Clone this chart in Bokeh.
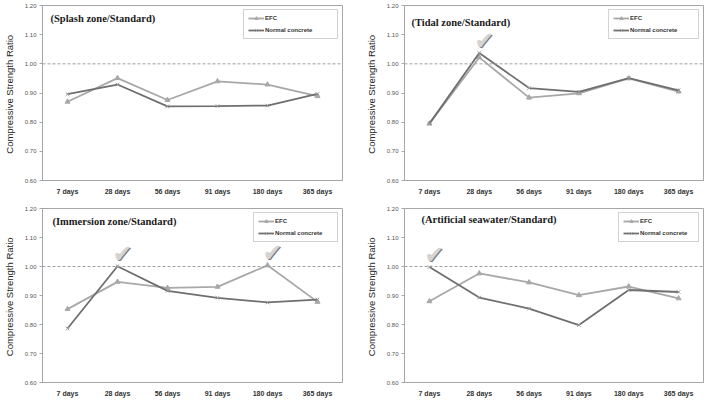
from bokeh.plotting import figure
from bokeh.layouts import gridplot
from bokeh.models import (Span, Label, Legend, LegendItem, FixedTicker,
                          NumeralTickFormatter, ColumnDataSource)
from bokeh.core.properties import value
from bokeh.embed import file_html
from bokeh.resources import INLINE

# Curing ages on the x axis
ages = ["7 days", "28 days", "56 days", "91 days", "180 days", "365 days"]
y_ticks = [0.60, 0.70, 0.80, 0.90, 1.00, 1.10, 1.20]

# Compressive strength ratio (exposure / standard curing)
splash_efc = [0.870, 0.951, 0.876, 0.940, 0.929, 0.889]
splash_normal = [0.896, 0.929, 0.854, 0.855, 0.857, 0.897]

tidal_efc = [0.795, 1.022, 0.884, 0.899, 0.950, 0.905]
tidal_normal = [0.795, 1.037, 0.917, 0.904, 0.951, 0.909]

immersion_efc = [0.853, 0.947, 0.926, 0.930, 1.004, 0.878]
immersion_normal = [0.786, 1.001, 0.916, 0.892, 0.876, 0.886]

seawater_efc = [0.880, 0.976, 0.945, 0.901, 0.931, 0.890]
seawater_normal = [0.998, 0.893, 0.855, 0.798, 0.919, 0.912]

titles = ["(Splash zone/Standard)", "(Tidal zone/Standard)",
          "(Immersion zone/Standard)", "(Artificial seawater/Standard)"]

# Ages whose ratio reaches the standard-cured strength (ticked), per panel
checks_efc = [[], [], ["180 days"], []]
checks_normal = [[], ["28 days"], ["28 days"], ["7 days"]]

EFC_COLOR = "#a8a8a8"
NC_COLOR = "#6f6f6f"
FRAME_COLOR = "#a6a6a6"
SANS = "Liberation Sans"


def make_panel(title, efc, normal, tick_efc, tick_normal, borders, title_pos, legend_w):
    left, right, top, bottom = borders
    p = figure(width=355, height=204, x_range=ages, y_range=(0.60, 1.20),
               output_backend="svg", toolbar_location=None,
               min_border_left=left, min_border_right=right,
               min_border_top=top, min_border_bottom=bottom)
    p.x_range.range_padding = 0
    p.xgrid.grid_line_color = None
    p.ygrid.grid_line_color = None
    p.outline_line_color = FRAME_COLOR
    p.outline_line_width = 1
    p.background_fill_color = "white"
    p.border_fill_color = "white"

    # y axis
    ya = p.yaxis[0]
    ya.ticker = FixedTicker(ticks=y_ticks)
    ya.formatter = NumeralTickFormatter(format="0.00")
    ya.axis_line_color = FRAME_COLOR
    ya.major_tick_line_color = FRAME_COLOR
    ya.major_tick_out = 3
    ya.major_tick_in = 0
    ya.minor_tick_line_color = None
    ya.major_label_text_font = SANS
    ya.major_label_text_font_size = "6px"
    ya.major_label_text_color = "#555555"
    ya.major_label_standoff = 3
    ya.axis_label = "Compressive  Strength Ratio"
    ya.axis_label_text_font = SANS
    ya.axis_label_text_font_style = "normal"
    ya.axis_label_text_font_size = "9.5px"
    ya.axis_label_text_color = "#262626"
    ya.axis_label_standoff = 7

    # x axis
    xa = p.xaxis[0]
    xa.axis_line_color = FRAME_COLOR
    xa.major_tick_line_color = None
    xa.major_tick_out = 0
    xa.major_label_text_font = SANS
    xa.major_label_text_font_style = "bold"
    xa.major_label_text_font_size = "7px"
    xa.major_label_text_color = "#333333"
    xa.major_label_standoff = 7

    # reference level of the standard-cured strength
    p.add_layout(Span(location=1.0, dimension="width", line_color="#a0a0a0",
                      line_dash="3 2", line_width=1))

    src = ColumnDataSource(dict(age=ages, efc=efc, normal=normal))
    l1 = p.line("age", "efc", source=src, line_color=EFC_COLOR, line_width=1.8)
    m1 = p.scatter("age", "efc", source=src, marker="triangle", size=5,
                   fill_color=EFC_COLOR, line_color=EFC_COLOR)
    l2 = p.line("age", "normal", source=src, line_color=NC_COLOR, line_width=1.8)
    m2 = p.scatter("age", "normal", source=src, marker="x", size=5,
                   line_color="#9a9a9a", line_width=1)

    legend = Legend(items=[LegendItem(label="EFC", renderers=[l1, m1]),
                           LegendItem(label="Normal concrete", renderers=[l2, m2])],
                    location="top_right")
    legend.label_text_font = SANS
    legend.label_text_font_style = "bold"
    legend.label_text_font_size = "6px"
    legend.label_text_color = "#333333"
    legend.glyph_width = 16
    legend.glyph_height = 8
    legend.label_height = 8
    legend.label_standoff = 1
    legend.spacing = 4
    legend.padding = 4
    legend.margin = 4
    legend.border_line_color = FRAME_COLOR
    legend.border_line_width = 1
    legend.background_fill_color = "white"
    legend.background_fill_alpha = 1
    legend.label_width = legend_w
    p.add_layout(legend)

    # ticks above points that reach the standard strength
    cx = [a for a in tick_efc] + [a for a in tick_normal]
    cy = [efc[ages.index(a)] for a in tick_efc] + [normal[ages.index(a)] for a in tick_normal]
    if cx:
        csrc = ColumnDataSource(dict(x=cx, y=cy, t=["\u2714"] * len(cx)))
        p.text("x", "y", text="t", source=csrc, text_font=value("DejaVu Sans"),
               text_font_size="24px", text_color="#7a7a7a", text_align="center",
               text_baseline="bottom", x_offset=6, y_offset=3)
        p.text("x", "y", text="t", source=csrc, text_font=value("DejaVu Sans"),
               text_font_size="24px", text_color="#d4d4d4", text_align="center",
               text_baseline="bottom", x_offset=5, y_offset=2)

    tx, ty = title_pos
    p.add_layout(Label(x=tx, y=ty, x_units="screen", y_units="screen",
                       text=title, text_font="Liberation Serif",
                       text_font_style="bold", text_font_size="10.5px",
                       text_color="#1a1a1a", text_baseline="alphabetic"))
    return p


p1 = make_panel(titles[0], splash_efc, splash_normal, checks_efc[0], checks_normal[0],
                (42, 12, 4, 22), (8, 162), 68)
p2 = make_panel(titles[1], tidal_efc, tidal_normal, checks_efc[1], checks_normal[1],
                (49, 7, 5, 24), (7, 158), 64)
p3 = make_panel(titles[2], immersion_efc, immersion_normal, checks_efc[2], checks_normal[2],
                (42, 13, 3, 26), (10, 161), 58)
p4 = make_panel(titles[3], seawater_efc, seawater_normal, checks_efc[3], checks_normal[3],
                (47, 7, 4, 24), (17, 163), 54)

grid = gridplot([[p1, p2], [p3, p4]], toolbar_location=None)

open("out.html", "w").write(file_html(grid, INLINE))
